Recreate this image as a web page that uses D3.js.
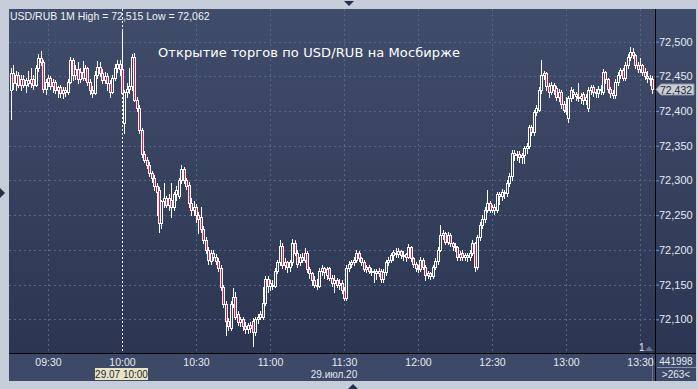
<!DOCTYPE html>
<html><head><meta charset="utf-8">
<script src="https://cdn.jsdelivr.net/npm/d3@7/dist/d3.min.js"></script>
<style>html,body{margin:0;padding:0;background:#c4cdd9;}svg{display:block}</style>
</head><body><svg id="c" width="698" height="389"></svg>
<script>
// Prices are stored in thousandths of a ruble above BASE (e.g. 432 -> 72,432)
const BASE = 72;
const startTime = new Date(2020, 6, 29, 9, 15); // first 1-minute candle
const openV = [
430,455,440,452,437,446,438,444,440,446,438,462,476,470,432,442,447,436,442,430,
434,426,430,428,442,474,452,460,446,456,448,462,442,430,426,452,464,455,445,450,
440,428,448,462,468,
460,382,428,432,436,478,416,404,372,338,330,322,310,303,292,286,238,270,274,264,
272,262,280,278,300,316,300,294,268,258,262,250,248,230,214,200,184,196,190,184,
174,146,122,98,88,122,132,108,96,100,90,86,92,98,82,100,104,104,124,158,148,
150,148,170,182,206,178,182,176,182,210,196,182,190,186,196,172,166,156,150,148,
170,174,164,174,160,152,156,150,152,142,131,174,180,182,186,196,188,182,172,175,
170,170,170,166,170,158,168,182,186,192,196,194,198,193,194,190,204,
188,180,174,172,186,176,164,166,162,176,184,200,222,224,212,222,210,206,204,190,
196,190,192,190,196,210,176,218,236,244,258,268,258,262,257,280,278,284,282,296,
306,340,336,338,334,336,346,350,377,370,398,402,430,452,454,436,428,437,433,420,
427,410,402,390,419,428,422,420,418,424,416,404,430,434,428,426,432,428,456,446,
432,426,423,442,452,459,448,466,478,485,480,466,460,466,456,450,448,446
];
const highV = [
462,466,458,456,452,452,448,458,462,452,466,482,486,474,446,452,450,446,444,436,
438,434,434,446,478,476,466,470,462,472,466,464,446,436,458,472,470,460,456,454,
444,452,468,474,474,
515,430,440,462,482,484,420,408,376,342,334,326,314,308,296,290,272,296,278,280,
296,284,292,304,322,320,304,298,274,270,266,254,262,234,218,204,200,200,194,188,
178,150,126,102,126,145,140,112,104,104,96,94,96,102,104,108,112,146,162,162,156,
156,174,186,214,210,188,184,186,216,214,200,194,196,202,198,176,168,162,158,174,
178,176,176,176,164,164,160,158,156,146,178,184,186,190,200,198,190,186,178,178,
174,172,172,174,172,172,186,190,196,200,202,202,200,198,196,208,206,
190,182,178,190,188,178,170,168,178,188,204,236,228,226,226,224,212,210,206,198,
200,196,196,200,214,212,222,240,250,262,286,270,264,266,284,284,288,286,300,310,
344,344,342,342,340,350,354,380,380,402,408,434,473,458,456,440,442,440,436,432,
430,414,420,422,434,432,428,440,426,428,424,434,438,438,432,436,438,460,458,448,
434,430,446,456,462,462,470,482,492,490,482,470,476,468,462,458,452,450
];
const lowV = [
389,432,430,434,430,434,428,436,434,432,436,458,466,428,424,436,432,428,426,420,
420,418,422,424,440,444,446,440,442,444,444,438,424,420,424,448,450,440,440,430,
420,426,444,456,452,
424,368,420,426,430,414,400,368,334,326,318,306,298,286,250,226,232,262,262,258,
247,258,272,274,296,296,288,262,250,250,240,224,226,210,196,180,180,186,180,170,
142,118,78,84,84,118,100,92,90,84,80,80,82,62,78,94,100,100,120,140,142,
144,146,166,178,174,172,168,170,178,192,176,178,182,182,168,160,150,146,144,146,
164,160,158,156,148,140,146,144,138,128,128,170,176,178,182,184,178,170,168,166,
164,153,158,162,154,154,164,178,182,186,190,190,188,186,184,188,184,
176,170,168,170,172,156,160,158,160,172,180,198,216,208,208,206,200,198,186,186,
186,186,184,186,192,170,172,214,232,240,254,254,254,252,254,266,272,274,278,292,
300,330,330,326,325,325,340,346,366,366,394,400,426,446,430,420,424,424,416,414,
404,398,396,384,414,418,416,414,412,410,410,400,424,422,420,420,424,424,440,428,
420,418,418,438,448,444,444,462,474,476,462,456,456,452,446,442,438,426
];
const closeV = [
455,440,452,437,446,438,444,440,446,438,462,476,470,432,442,447,436,442,430,434,
426,430,428,442,474,452,460,446,456,448,462,442,430,426,452,464,455,445,450,440,
428,448,462,468,460,
426,428,432,436,478,416,404,372,338,330,322,310,303,292,284,238,270,274,264,275,
262,280,286,300,316,300,292,268,258,262,250,244,230,214,200,186,196,190,184,174,
146,122,98,90,122,132,104,96,100,90,86,92,88,82,100,104,108,124,158,148,152,
148,170,182,206,178,182,176,182,210,196,180,190,186,196,172,166,156,150,148,170,
174,168,172,160,152,156,150,152,142,131,174,180,182,186,196,188,182,172,175,170,
170,168,167,170,158,168,182,186,192,197,194,198,193,192,190,204,188,
180,174,172,186,176,164,166,162,176,184,200,222,224,212,222,210,206,204,190,194,
190,192,190,196,210,176,218,236,244,258,268,258,262,257,280,278,284,282,296,306,
340,336,338,334,336,346,350,377,370,398,404,430,452,454,436,428,437,430,420,427,
410,402,400,419,430,424,424,418,422,416,420,430,434,428,426,432,430,456,446,432,
426,423,442,452,459,448,466,478,485,480,466,460,466,456,450,448,446,432
];
const priceTicks = [72.10, 72.15, 72.20, 72.25, 72.30, 72.35, 72.40, 72.45, 72.50];
const timeTicks = ["09:30","10:00","10:30","11:00","11:30","12:00","12:30","13:00","13:30"];
const lastPrice = 72.432;
const cursorTime = "10:00";
const cursorLabel = "29.07 10:00";
const dateLabel = "29.июл.20";
const titleText = "USD/RUB 1M High = 72,515 Low = 72,062";
const noteText = "Открытие торгов по USD/RUB на Мосбирже";
const volumeText = "441998";
const barsText = ">263<";

const W = 698, H = 389;
const P = {l: 9, t: 9, r: 655, b: 353, rr: 696, bb: 381};
const toTime = s => { const [h, m] = s.split(":").map(Number); return new Date(2020, 6, 29, h, m); };
const fmtPrice = d3.formatLocale({decimal: ",", thousands: "\u00a0", grouping: [3], currency: ["", ""]}).format(".3f");

const data = closeV.map((c, i) => ({
  t: new Date(startTime.getTime() + i * 60000),
  o: BASE + openV[i] / 1000, h: BASE + highV[i] / 1000,
  l: BASE + lowV[i] / 1000, c: BASE + c / 1000
}));

const x = d3.scaleTime().domain([toTime("10:00"), toTime("13:30")]).range([122, 640]);
const y = d3.scaleLinear().domain([72.10, 72.50]).range([319.3, 41.5]);

const svg = d3.select("#c");
const defs = svg.append("defs");
const gr = defs.append("linearGradient").attr("id", "bg").attr("x1", 0).attr("y1", 0).attr("x2", 0).attr("y2", 1);
gr.append("stop").attr("offset", "0%").attr("stop-color", "#404d6a");
gr.append("stop").attr("offset", "100%").attr("stop-color", "#2a3450");
defs.append("clipPath").attr("id", "clip").append("rect")
  .attr("x", P.l).attr("y", P.t).attr("width", P.r - P.l).attr("height", P.b - P.t);

svg.append("rect").attr("width", W).attr("height", H).attr("fill", "#c4cdd9");
svg.append("rect").attr("x", P.l).attr("y", P.t).attr("width", P.rr - P.l).attr("height", P.bb - P.t).attr("fill", "url(#bg)");
svg.append("rect").attr("x", P.l).attr("y", P.b).attr("width", P.rr - P.l).attr("height", P.bb - P.b).attr("fill", "#3c4967");

// grid
const grid = svg.append("g").attr("stroke", "#56668a").attr("stroke-dasharray", "2,3").attr("stroke-width", 1);
grid.selectAll("line.h").data(priceTicks).join("line").attr("class", "h")
  .attr("x1", P.l).attr("x2", P.r).attr("y1", d => Math.round(y(d)) + 0.5).attr("y2", d => Math.round(y(d)) + 0.5);
grid.selectAll("line.v").data(timeTicks.filter(t => t !== cursorTime)).join("line").attr("class", "v")
  .attr("y1", P.t).attr("y2", P.b).attr("x1", d => Math.round(x(toTime(d))) + 0.5).attr("x2", d => Math.round(x(toTime(d))) + 0.5);

// crosshair
const cx0 = Math.round(x(toTime(cursorTime))) + 0.5;
svg.append("line").attr("x1", cx0).attr("x2", cx0).attr("y1", P.t).attr("y2", P.b)
  .attr("stroke", "#ffffff").attr("stroke-dasharray", "2,2");

// candles
const cg = svg.append("g").attr("clip-path", "url(#clip)");
const cand = cg.selectAll("g").data(data).join("g");
const px = d => Math.round(x(d.t));
cand.append("line")
  .attr("x1", d => px(d) + 0.5).attr("x2", d => px(d) + 0.5)
  .attr("y1", d => Math.round(y(d.h))).attr("y2", d => Math.round(y(d.l)) + 1)
  .attr("stroke", "#ffffff");
cand.append("rect")
  .attr("x", d => px(d) - 0.5).attr("width", 2)
  .attr("y", d => Math.round(y(Math.max(d.o, d.c))) + 0.5)
  .attr("height", d => Math.max(1, Math.round(y(Math.min(d.o, d.c))) - Math.round(y(Math.max(d.o, d.c)))))
  .attr("fill", d => d.c < d.o ? "#ec1040" : "#33405c")
  .attr("stroke", "#ffffff").attr("stroke-width", 1);

// frame lines
svg.append("line").attr("x1", P.r + 0.5).attr("x2", P.r + 0.5).attr("y1", P.t).attr("y2", P.bb).attr("stroke", "#000");
svg.append("line").attr("x1", P.l).attr("x2", P.rr).attr("y1", P.b + 0.5).attr("y2", P.b + 0.5).attr("stroke", "#000");
svg.append("line").attr("x1", 652.5).attr("x2", 652.5).attr("y1", 356).attr("y2", P.bb).attr("stroke", "#6a7694");
svg.append("line").attr("x1", P.r + 2).attr("x2", P.rr).attr("y1", 367.5).attr("y2", 367.5).attr("stroke", "#8591aa");

// right axis
const ya = svg.append("g").attr("transform", `translate(${P.r + 1},0)`)
  .call(d3.axisRight(y).tickValues(priceTicks).tickFormat(fmtPrice).tickSize(3).tickPadding(0));
ya.select(".domain").remove();
ya.selectAll("line").attr("stroke", "#5f93dc");
ya.selectAll("text").attr("fill", "#e4e9f2").style("font", "11px 'Liberation Sans', Arial, sans-serif");

// bottom axis
const xa = svg.append("g").attr("transform", `translate(0,${P.b})`)
  .call(d3.axisBottom(x).tickValues(timeTicks.map(toTime)).tickFormat(d3.timeFormat("%H:%M")).tickSize(0).tickPadding(6));
xa.select(".domain").remove();
xa.selectAll("text").attr("fill", "#e4e9f2").style("font", "10.5px 'Liberation Sans', Arial, sans-serif");

// cursor date box
const cb = svg.append("g");
cb.append("rect").attr("x", 95).attr("y", 368).attr("width", 53).attr("height", 12).attr("fill", "#e9e4c6");
cb.append("text").attr("x", 121.5).attr("y", 377.5).attr("text-anchor", "middle").attr("fill", "#1e2430")
  .style("font", "10px 'Liberation Sans', Arial, sans-serif").text(cursorLabel);
svg.append("text").attr("x", 334).attr("y", 378).attr("text-anchor", "middle").attr("fill", "#e4e9f2")
  .style("font", "10px 'Liberation Sans', Arial, sans-serif").text(dateLabel);

// last price tag
const yl = Math.round(y(lastPrice)) + 0.5;
svg.append("path").attr("d", `M656,${yl} L661,${yl - 5.5} L694,${yl - 5.5} L694,${yl + 5.5} L661,${yl + 5.5} Z`)
  .attr("fill", "#cbcfd6").attr("stroke", "#8a93a5");
svg.append("text").attr("x", 660).attr("y", yl + 4).attr("fill", "#1d2433")
  .style("font", "10.5px 'Liberation Sans', Arial, sans-serif").text(fmtPrice(lastPrice));

// corner box texts
svg.append("text").attr("x", 676).attr("y", 364.5).attr("text-anchor", "middle").attr("fill", "#e4e9f2")
  .style("font", "10px 'Liberation Sans', Arial, sans-serif").text(volumeText);
svg.append("text").attr("x", 676).attr("y", 377.5).attr("text-anchor", "middle").attr("fill", "#e4e9f2")
  .style("font", "10px 'Liberation Sans', Arial, sans-serif").text(barsText);

// titles
svg.append("text").attr("x", 10).attr("y", 20).attr("fill", "#eef1f6")
  .style("font", "10.5px 'Liberation Sans', Arial, sans-serif").text(titleText);
svg.append("text").attr("x", 158).attr("y", 57).attr("fill", "#ffffff")
  .attr("textLength", 302).attr("lengthAdjust", "spacing")
  .style("font", "13px 'DejaVu Sans', sans-serif").text(noteText);

// "1" marker and small triangle
svg.append("text").attr("x", 639).attr("y", 351).attr("fill", "#e4e9f2")
  .style("font", "10px 'Liberation Sans', Arial, sans-serif").text("1");
svg.append("path").attr("d", "M645,351 L649,346 L653,351 Z").attr("fill", "#66718c");

// navigation arrows on the frame
svg.append("path").attr("d", "M344,1 L354,1 L349,6 Z").attr("fill", "#26304a");
svg.append("path").attr("d", "M348,389 L358,389 L353,384 Z").attr("fill", "#26304a");
svg.append("path").attr("d", "M0,188 L0,198 L5,193 Z").attr("fill", "#26304a");
</script></body></html>
